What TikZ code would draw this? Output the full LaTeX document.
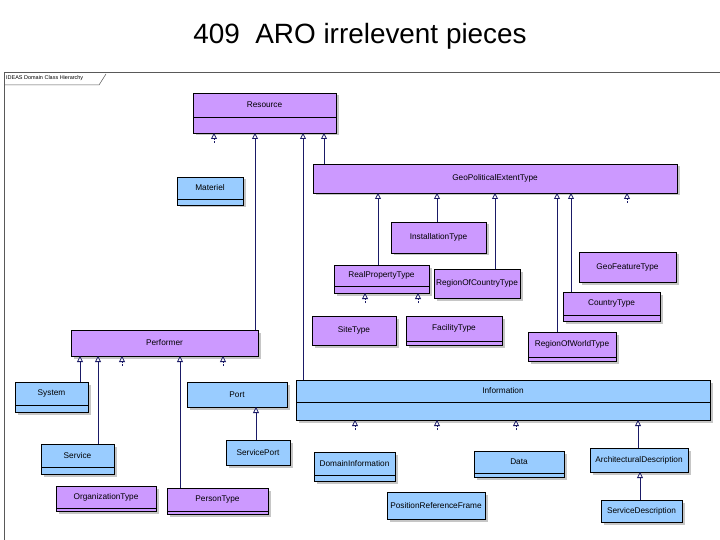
\documentclass[tikz,border=0pt]{standalone}
\usepackage{fontspec}
\setmainfont{Liberation Sans}
\usetikzlibrary{arrows.meta,shadows}
\definecolor{pur}{HTML}{CC99FF}
\definecolor{blu}{HTML}{99CCFF}
\definecolor{nav}{HTML}{1A1A66}
\tikzset{
 box/.style={draw=black,line width=0.9bp,inner sep=0,outer sep=0,anchor=north west,
   general shadow={fill=gray!45,shadow xshift=2.5bp,shadow yshift=-2.5bp}},
 lbl/.style={font=\fontsize{8.3}{9}\selectfont,inner sep=0},
 inh/.style={draw=nav,line width=0.8bp,-{Triangle[open,length=6bp,width=6bp,fill=white]}},
 stub/.style={inh,dashed,dash pattern=on 2bp off 1bp}
}
\newcommand\cls[8]{%
 \node[box,fill=#6,minimum width={(#4-#2)*1bp},minimum height={(#5-#3)*1bp}] (#1) at (#2,#3) {};
 \node[lbl] (#1t) at ({(#2+#4)/2},{(#3+#8)/2}) {#7};
 \draw[line width=0.9bp] (#2,#8) -- (#4,#8);}
\begin{document}
\begin{tikzpicture}[x=1bp,y=-1bp]
\useasboundingbox[fill=white] (0,0) rectangle (720,540);
\node[font=\fontsize{28}{32}\selectfont] (title) at (360,36) {409\ \ ARO irrelevent pieces};
\draw[gray!70!black,line width=0.8bp] (4,540) -- (4,72) -- (720,72);
\node[font=\fontsize{5.5}{6}\selectfont,anchor=west,inner sep=1bp] (frame) at (5,78) {IDEAS Domain Class Hierarchy};
\draw[gray!70!black,line width=0.5bp] (4,85) -- (99,85) -- (106,74);
\cls{res}{193}{93}{336}{133}{pur}{Resource}{117}
\cls{mat}{177}{177}{243}{205}{blu}{Materiel}{199}
\cls{geo}{313}{164}{677}{193}{pur}{GeoPoliticalExtentType}{193}
\cls{inst}{391}{222}{486}{253}{pur}{InstallationType}{253}
\cls{rp}{334}{265}{429}{293}{pur}{RealPropertyType}{286}
\cls{roc}{434}{269}{520}{298}{pur}{RegionOfCountryType}{298}
\cls{gf}{579}{252}{676}{282}{pur}{GeoFeatureType}{282}
\cls{ct}{563}{292}{660}{321}{pur}{CountryType}{315}
\cls{site}{312}{316}{396}{345}{pur}{SiteType}{345}
\cls{fac}{406}{316}{502}{345}{pur}{FacilityType}{341}
\cls{row}{528}{332}{616}{361}{pur}{RegionOfWorldType}{357}
\cls{perf}{71}{330}{258}{356}{pur}{Performer}{356}
\cls{sys}{15}{382}{88}{412}{blu}{System}{405}
\cls{port}{187}{382}{287}{407}{blu}{Port}{407}
\cls{info}{296}{380}{710}{420}{blu}{Information}{402}
\cls{sp}{226}{440}{290}{465}{blu}{ServicePort}{465}
\cls{dom}{314}{452}{395}{481}{blu}{DomainInformation}{475}
\cls{data}{474}{451}{564}{477}{blu}{Data}{473}
\cls{arch}{590}{448}{688}{472}{blu}{ArchitecturalDescription}{472}
\cls{serv}{41}{444}{114}{474}{blu}{Service}{467}
\cls{org}{56}{486}{156}{511}{pur}{OrganizationType}{508}
\cls{pers}{167}{488}{268}{514}{pur}{PersonType}{511}
\cls{prf}{387}{492}{485}{519}{blu}{PositionReferenceFrame}{519}
\cls{sd}{601}{500}{682}{522}{blu}{ServiceDescription}{522}
% inheritance
\draw[stub] (res.south -| 214,0) ++(0,10) -- (res.south -| 214,0);
\draw[inh] (perf.north -| 255,0) -- (res.south -| 255,0);
\draw[inh] (info.north -| 303,0) -- (res.south -| 303,0);
\draw[inh] (geo.north -| 324,0) -- (res.south -| 324,0);
\draw[inh] (rp.north -| 378,0) -- (geo.south -| 378,0);
\draw[inh] (inst.north -| 437,0) -- (geo.south -| 437,0);
\draw[inh] (roc.north -| 495,0) -- (geo.south -| 495,0);
\draw[inh] (row.north -| 557,0) -- (geo.south -| 557,0);
\draw[inh] (ct.north -| 571,0) -- (geo.south -| 571,0);
\draw[stub] (geo.south -| 627,0) ++(0,10) -- (geo.south -| 627,0);
\draw[stub] (rp.south -| 365,0) ++(0,10) -- (rp.south -| 365,0);
\draw[stub] (rp.south -| 418,0) ++(0,10) -- (rp.south -| 418,0);
\draw[inh] (sys.north -| 80,0) -- (perf.south -| 80,0);
\draw[inh] (serv.north -| 98,0) -- (perf.south -| 98,0);
\draw[stub] (perf.south -| 122,0) ++(0,10) -- (perf.south -| 122,0);
\draw[inh] (pers.north -| 180,0) -- (perf.south -| 180,0);
\draw[stub] (perf.south -| 223,0) ++(0,10) -- (perf.south -| 223,0);
\draw[inh] (sp.north -| 256,0) -- (port.south -| 256,0);
\draw[stub] (info.south -| 355,0) ++(0,10) -- (info.south -| 355,0);
\draw[stub] (info.south -| 437,0) ++(0,10) -- (info.south -| 437,0);
\draw[stub] (info.south -| 516,0) ++(0,10) -- (info.south -| 516,0);
\draw[inh] (arch.north -| 638,0) -- (info.south -| 638,0);
\draw[inh] (sd.north -| 640,0) -- (arch.south -| 640,0);
\end{tikzpicture}
\end{document}
